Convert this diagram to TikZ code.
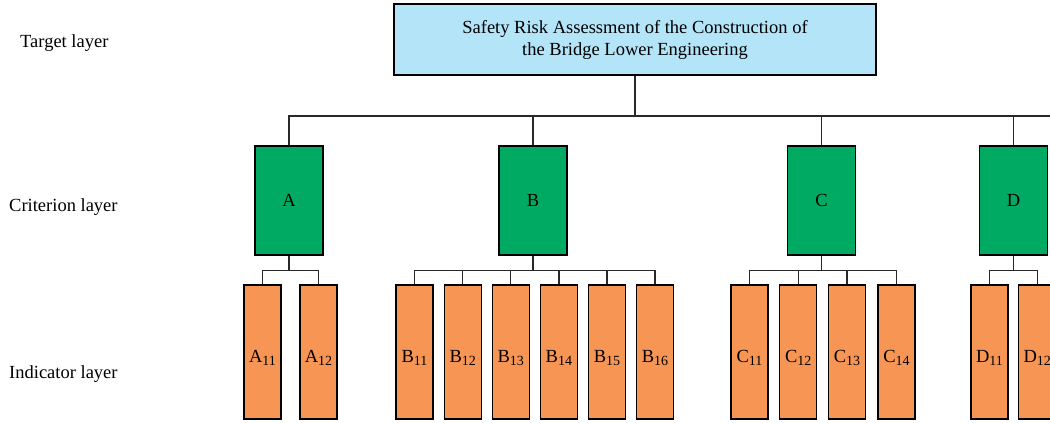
\documentclass[tikz,border=0pt]{standalone}
\usepackage{fontspec}
\setmainfont{Liberation Serif}
\definecolor{topblue}{RGB}{180,228,248}
\definecolor{critgreen}{RGB}{0,170,99}
\definecolor{indorange}{RGB}{247,150,84}
\definecolor{linegray}{RGB}{40,40,40}
\begin{document}
\begin{tikzpicture}[x=1pt,y=-1pt,
  every node/.style={font=\fontsize{18.5}{22}\selectfont, inner sep=0pt},
  topbox/.style={draw=black, line width=1.2pt, fill=topblue, minimum width=482pt, minimum height=71pt, align=center},
  critbox/.style={draw=black, line width=1.2pt, fill=critgreen, minimum width=68pt, minimum height=109pt},
  indbox/.style={draw=black, line width=1.2pt, fill=indorange, minimum width=37pt, minimum height=134pt},
  layerlabel/.style={anchor=west},
  conn/.style={draw=linegray, line width=1.2pt}
]
\useasboundingbox (0,0) rectangle (1050,423);

\node[layerlabel] (L1) at (20,43.5) {Target layer};
\node[layerlabel] (L2) at (9,207) {Criterion layer};
\node[layerlabel] (L3) at (9,374.5) {Indicator layer};

\node[topbox] (T) at (635,39.5) {Safety Risk Assessment of the Construction of\\the Bridge Lower Engineering};

\node[critbox] (A) at (289,200.5) {A};
\node[critbox] (B) at (533,200.5) {B};
\node[critbox] (C) at (821.5,200.5) {C};
\node[critbox] (D) at (1013.5,200.5) {D};

\foreach \l/\s/\x in {A/11/262.5,A/12/318.5,B/11/414.5,B/12/462.7,B/13/510.8,B/14/558.9,B/15/607,B/16/655,C/11/749.5,C/12/798.2,C/13/847,C/14/896.5,D/11/989.5,D/12/1037.2}{
  \node[indbox] (\l\s) at (\x,352) {\raisebox{-10pt}[0pt][0pt]{\l\raisebox{-3pt}{\fontsize{14}{14}\selectfont\s}}};
}

\coordinate (R) at (1050,116);
\draw[conn] (T.south) -- (T.south |- R);
\draw[conn] (A.north) |- (R);
\foreach \c in {B,C,D}{ \draw[conn] (T.south) -- ++(0,41) -| (\c.north); }

\foreach \p/\kids in {A/{A11,A12},B/{B11,B12,B13,B14,B15,B16},C/{C11,C12,C13,C14},D/{D11,D12}}{
  \foreach \k in \kids { \draw[conn] (\p.south) -- ++(0,15) -| (\k.north); }
}
\end{tikzpicture}
\end{document}
